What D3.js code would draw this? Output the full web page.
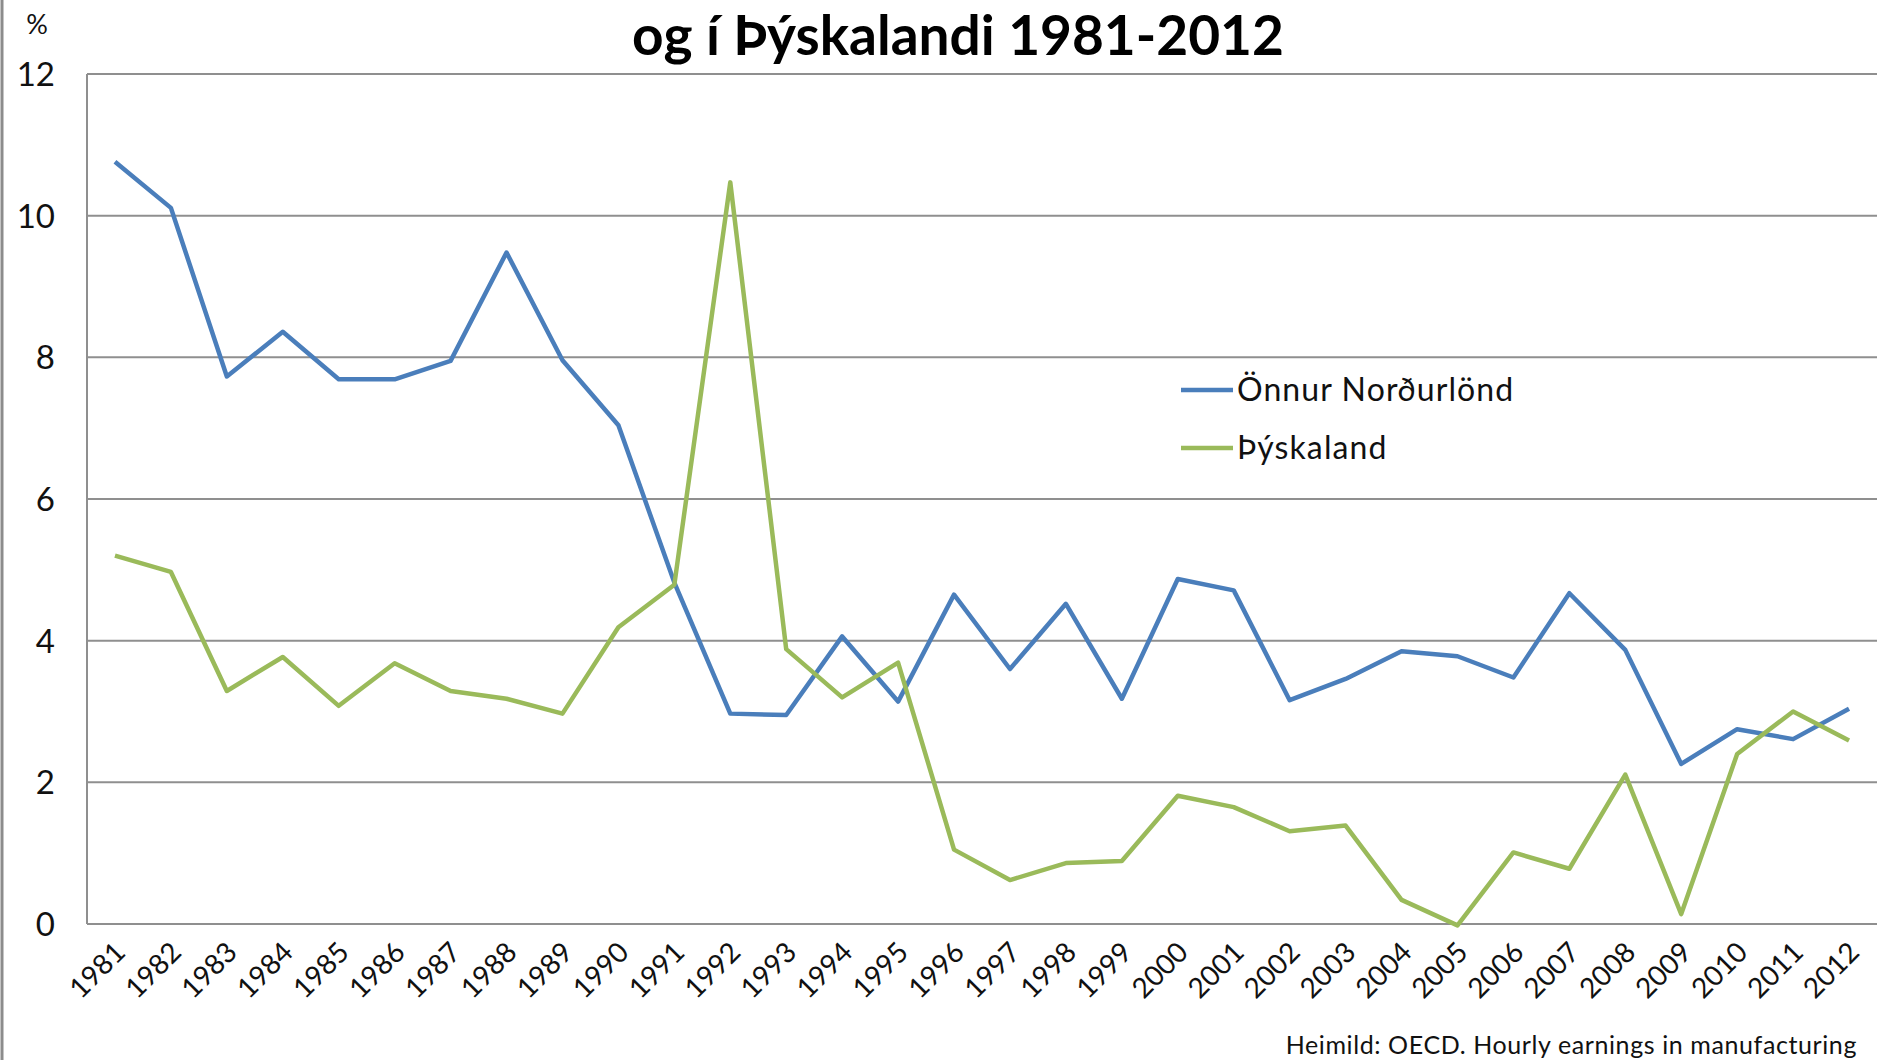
<!DOCTYPE html>
<html>
<head>
<meta charset="utf-8">
<script src="https://cdn.jsdelivr.net/npm/d3@7"></script>
<style>
  body { margin: 0; background: #fff; }
  svg { display: block; font-family: Lato, "Open Sans", sans-serif; }
</style>
</head>
<body>
<div id="chart"></div>
<script>
// --- données ---
const years = ["1981","1982","1983","1984","1985","1986","1987","1988","1989","1990",
  "1991","1992","1993","1994","1995","1996","1997","1998","1999","2000",
  "2001","2002","2003","2004","2005","2006","2007","2008","2009","2010","2011","2012"];

const nordurlond = [10.76, 10.11, 7.73, 8.36, 7.69, 7.69, 7.95, 9.48, 7.96, 7.04,
  4.82, 2.97, 2.95, 4.06, 3.14, 4.65, 3.6, 4.52, 3.18, 4.87,
  4.71, 3.16, 3.46, 3.85, 3.78, 3.48, 4.67, 3.87, 2.26, 2.75, 2.61, 3.04];

const thyskaland = [5.2, 4.97, 3.29, 3.77, 3.08, 3.68, 3.29, 3.18, 2.97, 4.19,
  4.79, 10.47, 3.88, 3.2, 3.69, 1.05, 0.62, 0.86, 0.89, 1.81,
  1.65, 1.31, 1.39, 0.34, -0.02, 1.01, 0.78, 2.11, 0.14, 2.4, 3.0, 2.59];

const yTicks = [0, 2, 4, 6, 8, 10, 12];
const seriesNames = ["Önnur Norðurlönd", "Þýskaland"];
const seriesColors = ["#4a7ebb", "#9aba5a"];

const title = "og í Þýskalandi 1981-2012";
const source = "Heimild: OECD. Hourly earnings in manufacturing";

// --- dimensions ---
const width = 1880, height = 1060;
const plotLeft = 87, plotRight = 1877, plotTop = 74, plotBottom = 924;

const svg = d3.select("#chart").append("svg")
  .attr("width", width)
  .attr("height", height);

const x = d3.scalePoint().domain(years).range([plotLeft, plotRight]).padding(0.5);
const y = d3.scaleLinear().domain([0, 12]).range([plotBottom, plotTop]);

// cadre à gauche
svg.append("line")
  .attr("x1", 2).attr("x2", 2).attr("y1", 0).attr("y2", height)
  .style("stroke", "#8c8c8c").style("stroke-width", 3);

// grille horizontale
svg.append("g")
  .selectAll("line")
  .data(yTicks)
  .enter().append("line")
  .attr("x1", plotLeft).attr("x2", plotRight)
  .attr("y1", d => y(d)).attr("y2", d => y(d))
  .style("stroke", "#8f8f8f")
  .style("stroke-width", 2);

// axe vertical
svg.append("line")
  .attr("x1", plotLeft).attr("x2", plotLeft).attr("y1", plotTop).attr("y2", plotBottom)
  .style("stroke", "#8f8f8f").style("stroke-width", 2);

// labels axe Y
svg.append("g")
  .selectAll("text")
  .data(yTicks)
  .enter().append("text")
  .attr("x", 55)
  .attr("y", d => y(d) + 12)
  .attr("text-anchor", "end")
  .style("font-size", "33px")
  .style("fill", "#111")
  .text(d => d);

svg.append("text")
  .attr("x", 37).attr("y", 34)
  .attr("text-anchor", "middle")
  .style("font-size", "27px")
  .style("fill", "#111")
  .text("%");

// labels axe X (pivotés)
svg.append("g")
  .selectAll("text")
  .data(years)
  .enter().append("text")
  .attr("text-anchor", "end")
  .attr("transform", d => `translate(${x(d) + 12},${plotBottom + 30}) rotate(-45)`)
  .style("font-size", "28px")
  .style("fill", "#111")
  .text(d => d);

// séries
const line = d3.line()
  .x((d, i) => x(years[i]))
  .y(d => y(d));

[nordurlond, thyskaland].forEach((vals, k) => {
  svg.append("path")
    .datum(vals)
    .attr("d", line)
    .style("fill", "none")
    .style("stroke", seriesColors[k])
    .style("stroke-width", 4.5)
    .style("stroke-linejoin", "round");
});

// légende
const legend = svg.append("g").attr("transform", "translate(1181,390)");
seriesNames.forEach((name, k) => {
  const g = legend.append("g").attr("transform", `translate(0,${k * 58})`);
  g.append("line")
    .attr("x1", 0).attr("x2", 52).attr("y1", 0).attr("y2", 0)
    .style("stroke", seriesColors[k]).style("stroke-width", 4.5);
  g.append("text")
    .attr("x", 56).attr("y", 11)
    .style("font-size", "32px")
    .style("letter-spacing", "1.1px")
    .style("fill", "#111")
    .text(name);
});

// titre
svg.append("text")
  .attr("x", 958).attr("y", 55)
  .attr("text-anchor", "middle")
  .style("font-size", "55px")
  .style("font-weight", "bold")
  .style("fill", "#000")
  .text(title);

// source
svg.append("text")
  .attr("x", 1857).attr("y", 1054)
  .attr("text-anchor", "end")
  .style("font-size", "25px")
  .style("letter-spacing", "0.6px")
  .style("fill", "#111")
  .text(source);
</script>
</body>
</html>
